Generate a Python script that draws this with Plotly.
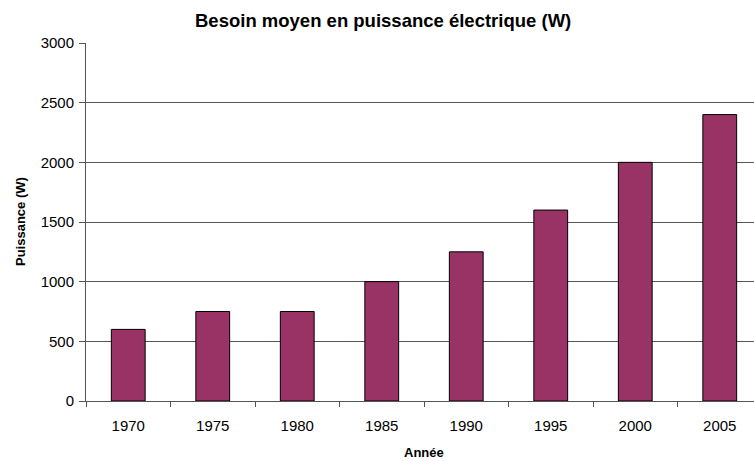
import plotly.graph_objects as go

years = ["1970", "1975", "1980", "1985", "1990", "1995", "2000", "2005"]
power_w = [600, 750, 750, 1000, 1250, 1600, 2000, 2400]
y_ticks = [0, 500, 1000, 1500, 2000, 2500, 3000]

title_text = "Besoin moyen en puissance électrique (W)"
x_title = "Année"
y_title = "Puissance (W)"

FONT = "Liberation Sans, Arial, Helvetica, sans-serif"
W, H = 754, 461
L, R, T, B = 86, 0, 43, 60
cat_px = 84.5
plot_w = W - L - R
plot_h = H - T - B


def fx(px):
    return (px - L) / plot_w


def fy(py):
    return (H - B - py) / plot_h


fig = go.Figure(
    go.Bar(
        x=years,
        y=power_w,
        marker=dict(color="#993366", line=dict(color="#000000", width=1)),
        hoverinfo="skip",
    )
)

fig.update_layout(
    width=W,
    height=H,
    margin=dict(l=L, r=R, t=T, b=B, pad=0, autoexpand=False),
    paper_bgcolor="white",
    plot_bgcolor="white",
    bargap=0.6,
    showlegend=False,
    font=dict(family=FONT, size=15, color="#000000"),
    annotations=[
        dict(text="<b>" + title_text + "</b>", x=fx(383), y=fy(20),
             xref="paper", yref="paper", xanchor="center", yanchor="middle",
             showarrow=False, font=dict(family=FONT, size=18.5, color="#000")),
        dict(text="<b>" + x_title + "</b>", x=fx(L + 8 * cat_px / 2), y=fy(452),
             xref="paper", yref="paper", xanchor="center", yanchor="middle",
             showarrow=False, font=dict(family=FONT, size=13, color="#000")),
        dict(text="<b>" + y_title + "</b>", x=fx(20), y=fy(222),
             xref="paper", yref="paper", xanchor="center", yanchor="middle",
             textangle=-90, showarrow=False, font=dict(family=FONT, size=13, color="#000")),
    ],
)

fig.update_xaxes(
    type="category",
    range=[-0.5, -0.5 + plot_w / cat_px],
    tickson="boundaries",
    ticks="outside",
    ticklen=5,
    tickcolor="#555555",
    ticklabelstandoff=11,
    showline=True,
    linecolor="#555555",
    linewidth=1,
    showgrid=False,
    tickfont=dict(family=FONT, size=15, color="#000"),
    fixedrange=True,
)
fig.update_yaxes(
    range=[0, 3000],
    tickvals=y_ticks,
    ticks="outside",
    ticklen=6,
    tickcolor="#555555",
    ticklabelstandoff=2,
    showline=True,
    linecolor="#555555",
    linewidth=1,
    showgrid=True,
    gridcolor="#555555",
    gridwidth=1,
    zeroline=False,
    tickfont=dict(family=FONT, size=15, color="#000"),
    fixedrange=True,
)

fig.write_html(
    "out.html",
    config={"displayModeBar": False},
    post_script="document.body.style.margin='0';document.body.style.overflow='hidden';",
)
